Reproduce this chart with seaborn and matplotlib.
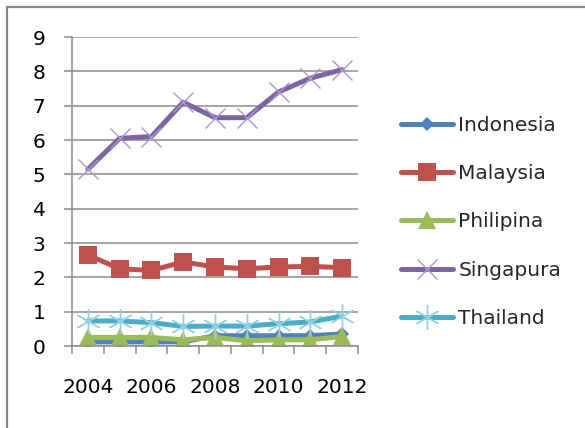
import pandas as pd
import matplotlib.pyplot as plt
import seaborn as sns
from matplotlib.lines import Line2D

# Data
years = [2004, 2005, 2006, 2007, 2008, 2009, 2010, 2011, 2012]
indonesia = [0.12, 0.12, 0.12, 0.12, 0.30, 0.30, 0.30, 0.30, 0.35]
malaysia = [2.65, 2.25, 2.20, 2.45, 2.30, 2.25, 2.30, 2.32, 2.28]
philipina = [0.25, 0.25, 0.25, 0.18, 0.25, 0.15, 0.18, 0.18, 0.28]
singapura = [5.15, 6.05, 6.10, 7.10, 6.65, 6.65, 7.40, 7.80, 8.05]
thailand = [0.73, 0.73, 0.68, 0.57, 0.58, 0.58, 0.65, 0.70, 0.87]

countries = ['Indonesia', 'Malaysia', 'Philipina', 'Singapura', 'Thailand']
values = [indonesia, malaysia, philipina, singapura, thailand]

# series styles (line colour, marker, marker size, marker colour, marker edge width)
styles = {
    'Indonesia': ('#4F81BD', 'D', 7, '#4F81BD', 0),
    'Malaysia': ('#C0504D', 's', 13.5, '#C0504D', 0),
    'Philipina': ('#9BBB59', '^', 13, '#9BBB59', 0),
    'Singapura': ('#8064A2', 'x', 14, '#A896CC', 1.0),
    'Thailand': ('#4BACC6', (6, 2, 0), 18, '#93D2E4', 1.0),
}

rows = []
for name, vals in zip(countries, values):
    for y, v in zip(years, vals):
        rows.append({'Year': y, 'Value': v, 'Country': name})
df = pd.DataFrame(rows)

sns.set_theme(style='white')
plt.rcParams['font.family'] = ['DejaVu Sans']

fig = plt.figure(figsize=(5.85, 4.28), dpi=100)
ax = fig.add_axes([72 / 585, 1 - 346 / 428, 286 / 585, 309 / 428])

for name in countries:
    color, marker, ms, mcol, mew = styles[name]
    sns.lineplot(data=df[df['Country'] == name], x='Year', y='Value', ax=ax,
                 color=color, linewidth=3.6, marker=marker, markersize=ms,
                 markerfacecolor=mcol, markeredgecolor=mcol, markeredgewidth=mew,
                 label=name)

ax.set_xlim(2003.5, 2012.5)
ax.set_ylim(0, 9)
ax.set_yticks(range(0, 10))
ax.set_xticks([2004, 2006, 2008, 2010, 2012])
ax.set_xticks([y - 0.5 for y in years] + [2012.5], minor=True)
ax.set_xlabel('')
ax.set_ylabel('')

ax.grid(axis='y', color='#8C8C8C', linewidth=1.1)
ax.set_axisbelow(True)
for side in ['top', 'right']:
    ax.spines[side].set_visible(False)
ax.spines['left'].set_color('#8C8C8C')
ax.spines['bottom'].set_color('#8C8C8C')
ax.spines['left'].set_linewidth(1.1)
ax.spines['bottom'].set_linewidth(1.1)

ax.tick_params(axis='y', which='major', length=6, width=1.1, color='#8C8C8C',
               pad=13, labelsize=14.5, labelcolor='black', left=True)
ax.tick_params(axis='x', which='major', length=0, pad=23, labelsize=14.5,
               labelcolor='black')
ax.tick_params(axis='x', which='minor', length=6, width=1.1, color='#8C8C8C',
               bottom=True, direction='out')

ax.legend(loc='upper left', bbox_to_anchor=(401 / 585, 1 - 116 / 428),
          bbox_transform=fig.transFigure, frameon=False, fontsize=14.5,
          handlelength=2.6, handletextpad=0.25, labelspacing=1.45,
          borderpad=0, borderaxespad=0)

# outer chart border (only top and left edges visible)
fig.add_artist(Line2D([6.5 / 585, 1.01], [1 - 6.5 / 428] * 2, color='#888888',
                      linewidth=1.6, transform=fig.transFigure))
fig.add_artist(Line2D([6.5 / 585] * 2, [-0.01, 1 - 6.5 / 428], color='#888888',
                      linewidth=1.6, transform=fig.transFigure))

plt.savefig('out.png', dpi=100)
